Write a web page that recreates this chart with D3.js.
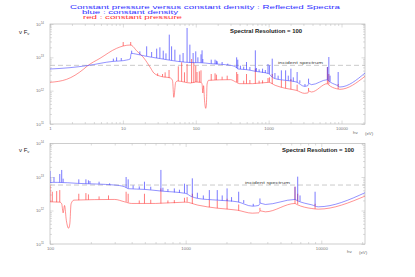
<!DOCTYPE html>
<html>
<head>
<meta charset="utf-8">
<script src="https://cdn.jsdelivr.net/npm/d3@7"></script>
<style>
  body { margin: 0; background: #fff; }
  text { font-family: 'Liberation Sans', Arial, sans-serif; }
</style>
</head>
<body>
<div id="chart"></div>
<script>
// values are [energy in eV, log10 of nu F_nu]
const densityCont = [
  [1, 12.65], [1.88, 12.69], [3.2, 12.75], [7.4, 12.88], [10.1, 12.90], [11.3, 12.92],
  [12.6, 12.95], [13.0, 13.12], [15, 13.10], [20, 13.04], [33, 12.96], [56, 12.88],
  [95, 12.84], [114, 12.84], [160, 12.81], [300, 12.76], [354, 12.71], [380, 12.65],
  [500, 12.63], [660, 12.58], [1000, 12.51], [1100, 12.42], [1230, 12.36], [1700, 12.31],
  [2400, 12.26], [3100, 12.13], [3450, 12.15], [3550, 12.22], [3870, 12.18], [6400, 12.33],
  [6600, 12.30], [7500, 12.22], [8500, 12.17], [9500, 12.11], [21000, 12.53]
]

const pressureCont = [
  [1, 12.25], [1.69, 12.34], [2.87, 12.64], [3.25, 12.74], [4.85, 12.97], [8.2, 13.27],
  [10.1, 13.34], [12.7, 13.37], [15.7, 13.18], [19.4, 12.98], [24, 12.68], [26.6, 12.53],
  [33, 12.43], [45, 12.38], [48, 12.30], [50, 11.80], [53, 12.25], [56, 12.29],
  [85, 12.23], [100, 12.26], [118, 12.25], [122, 12.20], [125, 11.93], [128, 12.15],
  [132, 11.70], [137, 11.47], [140, 11.60], [143, 12.20], [150, 12.31], [300, 12.33],
  [354, 12.26], [400, 12.21], [600, 12.21], [1000, 12.25], [1230, 12.16], [1700, 12.07],
  [2400, 12.01], [3100, 11.92], [3450, 11.93], [3550, 11.99], [3870, 11.96], [6400, 12.21],
  [6600, 12.18], [7500, 12.10], [8500, 12.06], [9500, 12.04], [21000, 12.43]
]

// emission lines: [energy, log base, log peak]
const densityLines = [
  [7.4, 12.88, 12.96], [8.2, 12.89, 13.0], [9.5, 12.90, 12.98], [13.2, 13.12, 13.2],
  [17.1, 13.08, 13.18], [21.2, 13.04, 13.33], [24.8, 13.01, 13.16], [29.1, 12.98, 13.26],
  [32.2, 12.97, 13.3], [35.8, 12.95, 13.2], [39, 12.94, 13.12], [43.3, 12.92, 13.68],
  [46.6, 12.91, 13.33], [51.7, 12.90, 13.23], [60.6, 12.87, 13.08], [67, 12.86, 13.13],
  [76, 12.85, 13.88], [83, 12.84, 13.38], [92, 12.84, 13.13], [100, 12.84, 13.18],
  [107, 12.85, 13.0], [118, 12.84, 13.09], [122, 12.84, 13.21], [125, 12.84, 12.95],
  [163, 12.81, 12.93], [184, 12.80, 12.93], [192, 12.80, 12.9], [197, 12.80, 12.88],
  [230, 12.79, 12.86], [275, 12.77, 12.81], [364, 12.68, 13.0], [377, 12.66, 12.93],
  [410, 12.65, 12.75], [455, 12.64, 12.72], [497, 12.63, 12.86], [553, 12.62, 12.71],
  [657, 12.58, 13.21], [680, 12.58, 12.68], [740, 12.56, 12.64], [825, 12.54, 12.66],
  [900, 12.53, 12.62], [980, 12.52, 12.8], [1025, 12.50, 12.76], [1120, 12.42, 12.96],
  [1220, 12.37, 12.53], [1350, 12.34, 12.45], [1495, 12.33, 12.61], [1710, 12.31, 12.61],
  [1860, 12.30, 12.45], [2020, 12.29, 12.66], [2180, 12.27, 12.40], [2460, 12.25, 12.56],
  [2680, 12.22, 12.31], [3150, 12.13, 12.20], [3530, 12.22, 12.36], [6400, 12.33, 12.71],
  [6700, 12.30, 13.01], [6970, 12.27, 12.45], [9000, 12.15, 12.56]
]

const pressureLines = [
  [10.1, 13.34, 13.46], [12.8, 13.36, 13.46], [30, 12.45, 12.52], [35, 12.42, 12.50],
  [38, 12.40, 12.55], [43, 12.38, 12.62], [57.6, 12.29, 12.73], [64, 12.28, 12.85],
  [70, 12.26, 12.55], [76, 12.25, 12.80], [87.7, 12.23, 12.95], [94, 12.24, 12.85],
  [100, 12.26, 12.75], [104, 12.26, 12.56], [112, 12.25, 12.58], [118, 12.25, 12.61],
  [163, 12.31, 12.50], [184, 12.32, 12.52], [192, 12.32, 12.48], [230, 12.33, 12.42],
  [270, 12.33, 12.45], [364, 12.26, 12.56], [377, 12.24, 12.50], [455, 12.21, 12.30],
  [497, 12.21, 12.50], [553, 12.21, 12.32], [657, 12.21, 12.66], [740, 12.22, 12.30],
  [825, 12.22, 12.31], [980, 12.25, 12.38], [1025, 12.26, 12.40], [1120, 12.20, 12.50],
  [1495, 12.10, 12.32], [1710, 12.07, 12.30], [2020, 12.04, 12.35], [2460, 12.00, 12.18],
  [3530, 11.99, 12.08], [6400, 12.21, 12.71], [6700, 12.19, 12.50], [9000, 12.05, 12.20]
]

const incidentLevel = 12.76
const yDecades = [11, 12, 13, 14]
const topXTicks = [1, 10, 100, 1000, 10000]
const bottomXTicks = [100, 1000, 10000]

const blue = '#3030ff'
const red = '#ff3030'
const frameColor = '#b8b8b8'

const width = 415
const height = 277
const left = 50
const right = 365

const panels = [
  { xDomain: [1, 21000], xTicks: topXTicks, top: 24, bottom: 124,
    resX: 230, resY: 33, incX: 278, hvX: 353, hvY: 134, labelY: 33.5 },
  { xDomain: [100, 21000], xTicks: bottomXTicks, top: 143.5, bottom: 244,
    resX: 282, resY: 152, incX: 245, hvX: 347, hvY: 253, labelY: 152 }
]

const svg = d3.select('#chart')
  .append('svg')
  .attr('width', width)
  .attr('height', height)

svg.append('rect').attr('width', width).attr('height', height).attr('fill', '#fff')

/* titles */
svg.append('text')
  .attr('x', 70).attr('y', 8.6)
  .attr('textLength', 270).attr('lengthAdjust', 'spacingAndGlyphs')
  .style('font-size', '4.8px').attr('fill', blue)
  .text('Constant pressure versus constant density : Reflected Spectra')

svg.append('text')
  .attr('x', 82).attr('y', 14)
  .attr('textLength', 96).attr('lengthAdjust', 'spacingAndGlyphs')
  .style('font-size', '4.8px').attr('fill', blue)
  .text('blue : constant density')

svg.append('text')
  .attr('x', 83).attr('y', 19.4)
  .attr('textLength', 99).attr('lengthAdjust', 'spacingAndGlyphs')
  .style('font-size', '4.8px').attr('fill', red)
  .text('red : constant pressure')

function minorTicks(domain) {
  const out = []
  for (let p = Math.floor(Math.log10(domain[0])); p <= Math.ceil(Math.log10(domain[1])); p++) {
    for (let k = 2; k <= 9; k++) {
      const v = k * Math.pow(10, p)
      if (v > domain[0] && v < domain[1]) out.push(v)
    }
  }
  return out
}

panels.forEach(function(p, i) {
  const x = d3.scaleLog().domain(p.xDomain).range([left, right])
  const y = d3.scaleLog().domain([1e11, 1e14]).range([p.bottom, p.top])
  const yVal = d => y(Math.pow(10, d))

  const g = svg.append('g')

  svg.append('clipPath').attr('id', 'clip' + i)
    .append('rect')
    .attr('x', left).attr('y', p.top)
    .attr('width', right - left).attr('height', p.bottom - p.top)

  /* axes: ticks inward on all four sides */
  const yMajor = yDecades.map(e => Math.pow(10, e))
  const yMinor = minorTicks([1e11, 1e14])
  const xMinor = minorTicks(p.xDomain)

  const axes = [
    [d3.axisBottom(x).tickValues(p.xTicks).tickSize(-3.5), `translate(0,${p.bottom})`, true],
    [d3.axisBottom(x).tickValues(xMinor).tickSize(-2), `translate(0,${p.bottom})`, false],
    [d3.axisTop(x).tickValues(p.xTicks).tickSize(-3.5), `translate(0,${p.top})`, false],
    [d3.axisTop(x).tickValues(xMinor).tickSize(-2), `translate(0,${p.top})`, false],
    [d3.axisLeft(y).tickValues(yMajor).tickSize(-3.5), `translate(${left},0)`, false],
    [d3.axisLeft(y).tickValues(yMinor).tickSize(-2), `translate(${left},0)`, false],
    [d3.axisRight(y).tickValues(yMajor).tickSize(-3.5), `translate(${right},0)`, false],
    [d3.axisRight(y).tickValues(yMinor).tickSize(-2), `translate(${right},0)`, false]
  ]
  axes.forEach(function(a) {
    a[0].tickFormat(a[2] ? d3.format('d') : '').tickPadding(2.5)
    const ag = g.append('g').attr('transform', a[1]).call(a[0])
    ag.select('.domain').remove()
    ag.selectAll('.tick line').attr('stroke', frameColor).attr('stroke-width', 0.5)
    ag.selectAll('.tick text')
      .style('font-size', '4.3px').attr('fill', '#777')
      .style('font-family', "'Liberation Sans', Arial, sans-serif")
  })

  g.append('rect')
    .attr('x', left).attr('y', p.top)
    .attr('width', right - left).attr('height', p.bottom - p.top)
    .attr('fill', 'none').attr('stroke', frameColor).attr('stroke-width', 0.7)

  /* y tick labels 10^n */
  yDecades.forEach(function(e) {
    const t = g.append('text')
      .attr('x', 44).attr('y', y(Math.pow(10, e)) + 1.5)
      .attr('text-anchor', 'end')
      .style('font-size', '4.3px').attr('fill', '#777')
    t.append('tspan').text('10')
    t.append('tspan').attr('dy', -1.6).style('font-size', '3px').text(e)
  })

  /* axis label */
  const yl = g.append('text')
    .attr('x', 19).attr('y', p.labelY)
    .style('font-size', '6px').attr('fill', '#222')
  yl.append('tspan').text('\u03bd F')
  yl.append('tspan').attr('dy', 1.3).style('font-size', '4px').text('\u03bd')

  g.append('text').attr('x', p.hvX).attr('y', p.hvY)
    .style('font-size', '4.3px').attr('fill', '#666').text('h\u03bd')
  g.append('text').attr('x', p.hvX + 12).attr('y', p.hvY + 0.6)
    .style('font-size', '4.3px').attr('fill', '#666').text('(eV)')

  /* incident spectrum */
  g.append('line')
    .attr('x1', left).attr('x2', right)
    .attr('y1', yVal(incidentLevel)).attr('y2', yVal(incidentLevel))
    .attr('stroke', '#bdbdbd').attr('stroke-width', 0.8)
    .attr('stroke-dasharray', '5 3')

  g.append('text')
    .attr('x', p.incX).attr('y', yVal(incidentLevel) - 1.3)
    .attr('textLength', 45).attr('lengthAdjust', 'spacingAndGlyphs')
    .style('font-size', '4px').attr('fill', '#444')
    .text('incident spectrum')

  g.append('text')
    .attr('x', p.resX).attr('y', p.resY)
    .attr('textLength', 72).attr('lengthAdjust', 'spacingAndGlyphs')
    .style('font-size', '5px').style('font-weight', 'bold').attr('fill', '#222')
    .text('Spectral Resolution = 100')

  /* spectra */
  const plot = g.append('g').attr('clip-path', `url(#clip${i})`)
  const line = d3.line()
    .x(d => x(d[0]))
    .y(d => yVal(d[1]))
    .curve(d3.curveMonotoneX)

  const series = [
    [pressureCont, pressureLines, red],
    [densityCont, densityLines, blue]
  ]
  series.forEach(function(s) {
    plot.append('path')
      .datum(s[0])
      .attr('d', line)
      .attr('fill', 'none')
      .attr('stroke', s[2])
      .attr('stroke-opacity', 0.75)
      .attr('stroke-width', 0.7)

    plot.append('g')
      .selectAll('line')
      .data(s[1])
      .join('line')
      .attr('x1', d => x(d[0])).attr('x2', d => x(d[0]))
      .attr('y1', d => yVal(d[1])).attr('y2', d => yVal(d[2]))
      .attr('stroke', s[2])
      .attr('stroke-opacity', 0.8)
      .attr('stroke-width', 0.8)
  })
})
</script>
</body>
</html>
